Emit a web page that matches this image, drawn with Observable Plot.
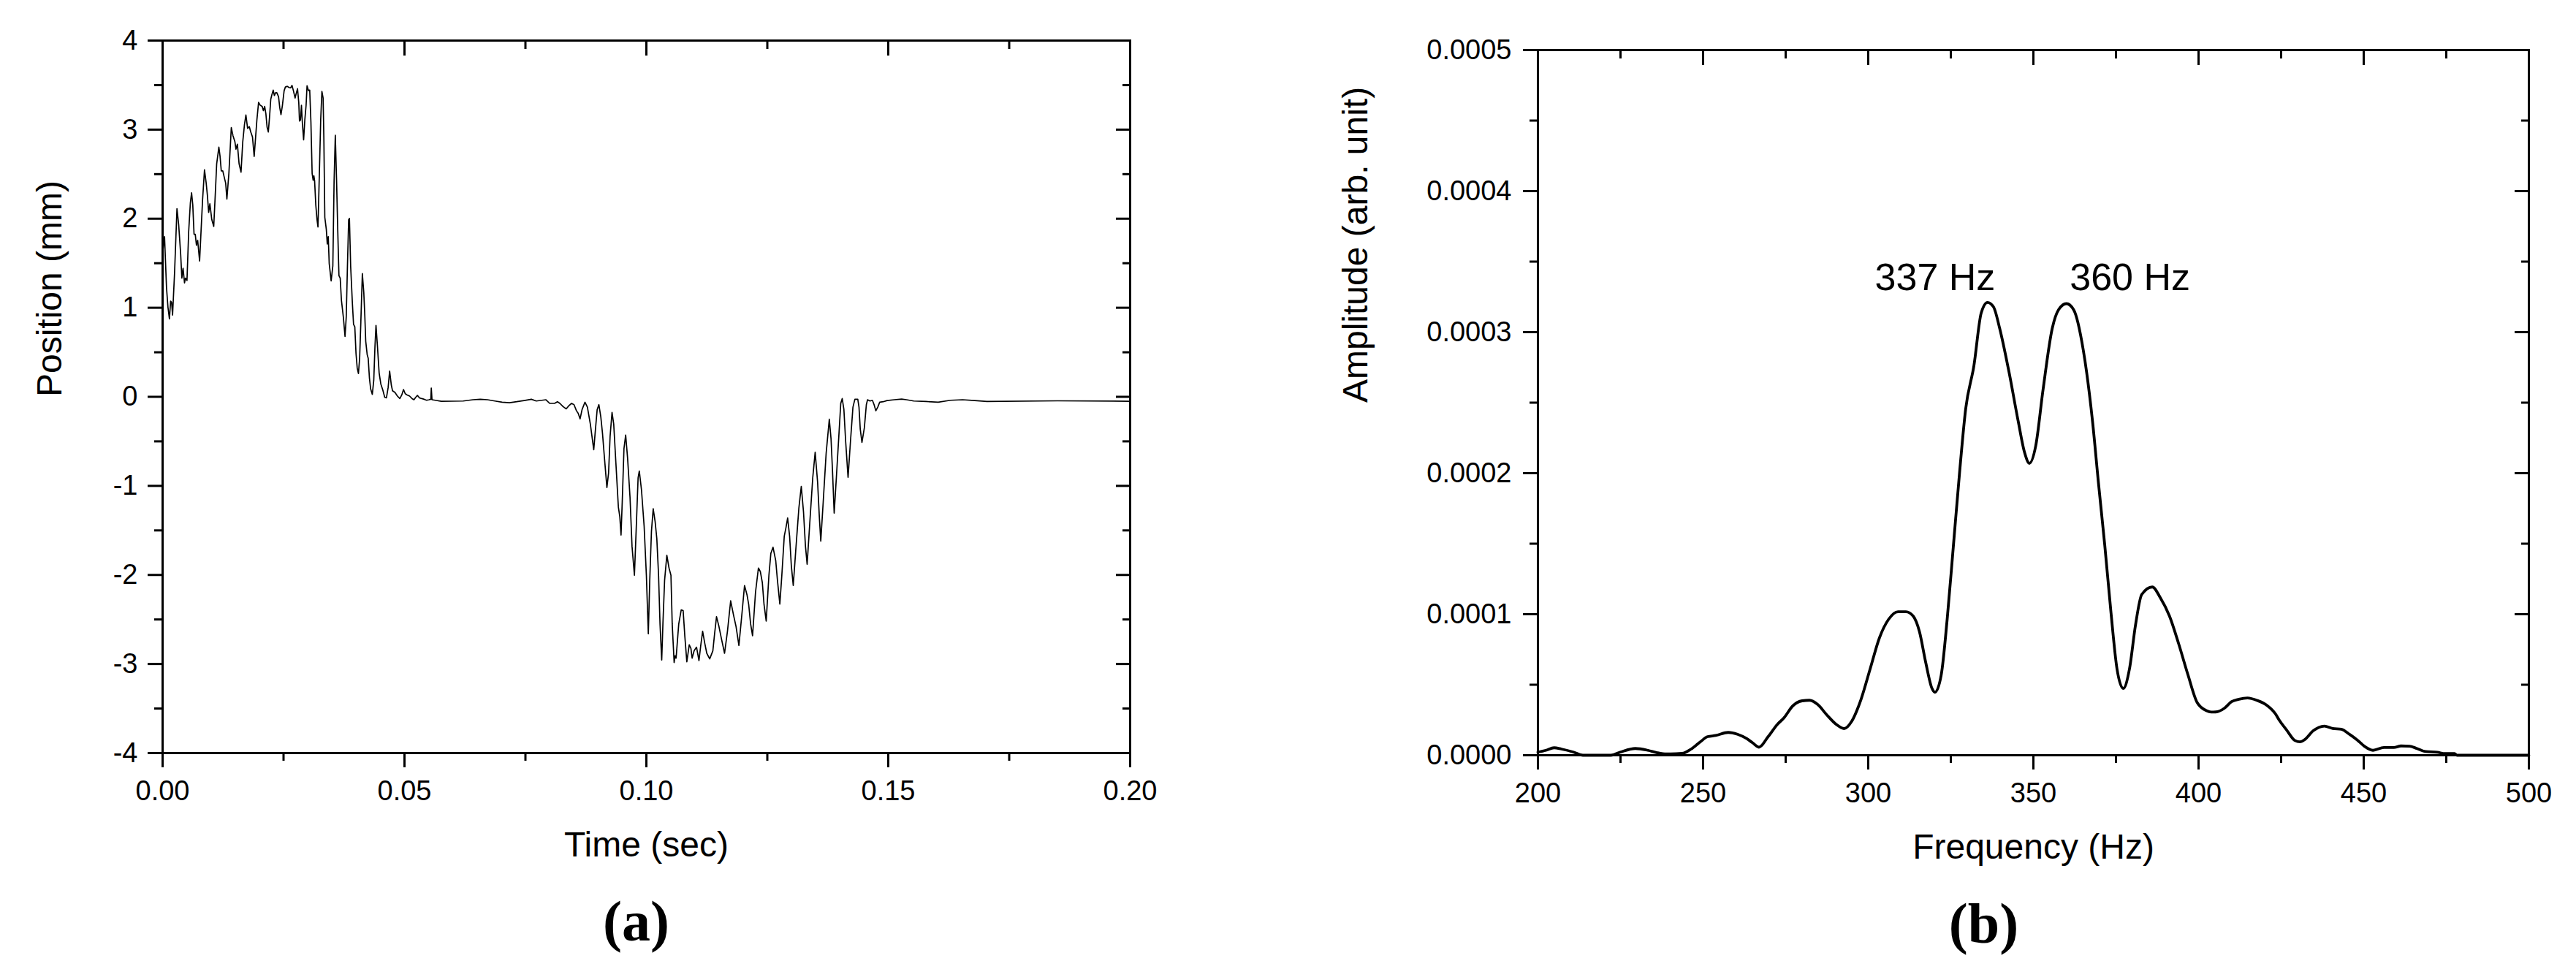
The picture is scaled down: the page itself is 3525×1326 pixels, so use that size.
<!DOCTYPE html>
<html><head><meta charset="utf-8">
<script src="https://cdn.jsdelivr.net/npm/d3@7"></script>
<script src="https://cdn.jsdelivr.net/npm/@observablehq/plot@0.6"></script>
<style>
html,body{margin:0;padding:0;background:#fff;}
#fig{position:relative;width:3525px;height:1326px;background:#fff;overflow:hidden;}
#fig svg{position:absolute;top:0;}
</style></head><body><div id="fig"></div>
<script>
// Panel (a): [time (s), position (mm)]
const positionSamples = [
[0.00005,1.634],[0.00040,1.798],[0.00081,1.224],[0.00111,1.005],[0.00141,0.874],[0.00166,1.074],[0.00186,1.060],[0.00206,0.918],[0.00247,1.388],[0.00297,2.112],
[0.00332,1.934],[0.00373,1.607],[0.00398,1.333],[0.00423,1.443],[0.00453,1.279],[0.00473,1.333],[0.00504,1.306],[0.00539,1.852],[0.00574,2.180],[0.00599,2.290],
[0.00624,2.153],[0.00650,1.825],[0.00675,1.825],[0.00700,1.702],[0.00725,1.757],[0.00765,1.525],[0.00826,2.208],[0.00866,2.549],[0.00901,2.399],[0.00926,2.262],
[0.00952,2.071],[0.00977,2.167],[0.01017,1.989],[0.01057,1.913],[0.01088,2.262],[0.01118,2.617],[0.01138,2.699],[0.01163,2.803],[0.01188,2.699],[0.01213,2.536],
[0.01244,2.536],[0.01279,2.454],[0.01304,2.399],[0.01329,2.221],[0.01370,2.508],[0.01420,3.022],[0.01455,2.932],[0.01495,2.863],[0.01516,2.781],[0.01546,2.836],
[0.01581,2.617],[0.01621,2.522],[0.01657,2.863],[0.01692,3.055],[0.01722,3.164],[0.01757,3.014],[0.01792,3.033],[0.01823,2.973],[0.01858,2.918],[0.01893,2.699],
[0.01923,2.918],[0.01949,3.109],[0.01984,3.306],[0.02019,3.273],[0.02059,3.260],[0.02084,3.213],[0.02110,3.260],[0.02135,3.178],[0.02160,3.027],[0.02185,2.973],
[0.02210,3.137],[0.02236,3.342],[0.02261,3.396],[0.02286,3.443],[0.02311,3.383],[0.02336,3.415],[0.02361,3.415],[0.02397,3.369],[0.02422,3.246],[0.02447,3.169],
[0.02477,3.273],[0.02512,3.437],[0.02538,3.478],[0.02578,3.486],[0.02613,3.473],[0.02648,3.470],[0.02674,3.497],[0.02704,3.437],[0.02739,3.355],[0.02764,3.410],
[0.02789,3.459],[0.02815,3.301],[0.02830,3.096],[0.02850,3.109],[0.02870,3.273],[0.02890,3.068],[0.02915,2.885],[0.02940,3.109],[0.02966,3.273],[0.02986,3.492],
[0.03016,3.437],[0.03041,3.443],[0.03066,3.082],[0.03091,2.508],[0.03112,2.432],[0.03127,2.481],[0.03142,2.426],[0.03167,2.153],[0.03192,1.989],[0.03212,1.907],
[0.03243,2.563],[0.03268,3.109],[0.03293,3.429],[0.03318,3.355],[0.03333,2.918],[0.03353,2.016],[0.03384,1.880],[0.03404,1.716],[0.03424,1.798],[0.03444,1.497],
[0.03484,1.301],[0.03519,1.470],[0.03545,2.426],[0.03570,2.937],[0.03595,2.454],[0.03620,1.880],[0.03645,1.361],[0.03671,1.333],[0.03696,1.087],[0.03736,0.896],
[0.03771,0.678],[0.03796,0.896],[0.03821,1.470],[0.03846,1.989],[0.03862,2.003],[0.03887,1.470],[0.03922,1.060],[0.03947,0.814],[0.03973,0.787],[0.03998,0.486],
[0.04023,0.323],[0.04048,0.262],[0.04073,0.432],[0.04098,0.842],[0.04129,1.383],[0.04159,1.169],[0.04179,0.923],[0.04199,0.623],[0.04229,0.473],[0.04250,0.432],
[0.04275,0.213],[0.04300,0.090],[0.04335,0.027],[0.04365,0.185],[0.04390,0.568],[0.04411,0.801],[0.04441,0.568],[0.04476,0.268],[0.04511,0.144],[0.04552,0.076],
[0.04592,-0.006],[0.04627,-0.011],[0.04662,0.103],[0.04693,0.289],[0.04728,0.131],[0.04753,0.068],[0.04803,0.049],[0.04854,0.008],[0.04904,-0.020],[0.04944,0.021],
[0.04980,0.082],[0.05015,0.035],[0.05055,0.021],[0.05106,0.008],[0.05156,-0.020],[0.05196,-0.033],[0.05231,-0.006],[0.05267,0.016],[0.05307,-0.011],[0.05357,-0.020],
[0.05408,-0.028],[0.05458,-0.039],[0.05508,-0.033],[0.05544,-0.028],[0.05554,0.098],[0.05569,-0.033],[0.05659,-0.041],[0.05760,-0.050],
[0.06214,-0.047],[0.06415,-0.033],[0.06566,-0.028],[0.06717,-0.033],[0.06868,-0.047],[0.07019,-0.061],[0.07170,-0.066],[0.07321,-0.055],[0.07472,-0.042],[0.07623,-0.028],
[0.07724,-0.047],[0.07925,-0.033],[0.08001,-0.074],[0.08102,-0.074],[0.08162,-0.055],[0.08212,-0.074],[0.08278,-0.110],[0.08343,-0.135],[0.08394,-0.102],[0.08454,-0.074],
[0.08504,-0.088],[0.08555,-0.157],[0.08590,-0.184],[0.08630,-0.247],[0.08671,-0.143],[0.08731,-0.061],[0.08781,-0.116],[0.08842,-0.307],[0.08882,-0.471],[0.08912,-0.594],
[0.08948,-0.362],[0.08983,-0.143],[0.09018,-0.088],[0.09058,-0.225],[0.09094,-0.416],[0.09134,-0.690],[0.09184,-1.019],[0.09219,-0.854],[0.09250,-0.444],[0.09290,-0.176],
[0.09325,-0.307],[0.09370,-0.745],[0.09421,-1.238],[0.09451,-1.347],[0.09476,-1.552],[0.09501,-1.183],[0.09537,-0.581],[0.09572,-0.430],[0.09612,-0.690],[0.09662,-1.128],
[0.09703,-1.675],[0.09753,-2.004],[0.09788,-1.511],[0.09829,-0.909],[0.09854,-0.833],[0.09899,-1.046],[0.09954,-1.456],[0.10000,-2.004],[0.10040,-2.661],[0.10070,-2.058],
[0.10105,-1.511],[0.10141,-1.257],[0.10181,-1.402],[0.10216,-1.593],[0.10252,-2.004],[0.10282,-2.551],[0.10317,-2.956],[0.10342,-2.551],[0.10377,-2.058],[0.10423,-1.779],
[0.10468,-1.922],[0.10508,-2.004],[0.10534,-2.551],[0.10574,-2.984],[0.10594,-2.907],[0.10614,-2.934],[0.10669,-2.551],[0.10720,-2.392],[0.10760,-2.401],[0.10795,-2.688],
[0.10836,-2.975],[0.10886,-2.784],[0.10921,-2.825],[0.10946,-2.934],[0.10987,-2.852],[0.11037,-2.811],[0.11087,-2.962],[0.11123,-2.797],[0.11163,-2.633],[0.11208,-2.770],
[0.11249,-2.880],[0.11309,-2.943],[0.11374,-2.852],[0.11410,-2.661],[0.11450,-2.469],[0.11500,-2.579],[0.11551,-2.715],[0.11616,-2.880],[0.11676,-2.633],[0.11742,-2.291],
[0.11803,-2.455],[0.11853,-2.578],[0.11913,-2.792],[0.11979,-2.414],[0.12029,-2.119],[0.12080,-2.223],[0.12115,-2.332],[0.12155,-2.551],[0.12195,-2.683],[0.12256,-2.195],
[0.12316,-1.922],[0.12356,-1.963],[0.12397,-2.086],[0.12432,-2.332],[0.12477,-2.518],[0.12533,-2.004],[0.12573,-1.758],[0.12618,-1.689],[0.12674,-1.840],[0.12709,-2.058],
[0.12759,-2.327],[0.12800,-2.004],[0.12850,-1.566],[0.12885,-1.470],[0.12920,-1.361],[0.12961,-1.566],[0.12996,-1.894],[0.13036,-2.119],[0.13087,-1.730],[0.13152,-1.251],
[0.13202,-1.005],[0.13248,-1.292],[0.13288,-1.675],[0.13323,-1.881],[0.13373,-1.456],[0.13439,-0.909],[0.13489,-0.622],[0.13540,-0.964],[0.13575,-1.347],[0.13605,-1.621],
[0.13655,-1.183],[0.13716,-0.635],[0.13781,-0.252],[0.13817,-0.471],[0.13847,-0.827],[0.13882,-1.306],[0.13927,-0.909],[0.13978,-0.444],[0.14018,-0.074],[0.14048,-0.020],
[0.14083,-0.143],[0.14119,-0.499],[0.14169,-0.904],[0.14219,-0.499],[0.14270,-0.116],[0.14310,-0.028],[0.14370,-0.028],[0.14395,-0.116],[0.14421,-0.362],[0.14456,-0.512],
[0.14506,-0.348],[0.14547,-0.088],[0.14572,-0.033],[0.14622,-0.047],[0.14672,-0.039],[0.14707,-0.088],[0.14743,-0.157],[0.14783,-0.116],[0.14823,-0.061],[0.14898,-0.055],
[0.14974,-0.042],[0.15125,-0.033],[0.15276,-0.025],[0.15377,-0.033],[0.15528,-0.047],[0.15779,-0.053],[0.16032,-0.061],[0.16284,-0.039],[0.16536,-0.033],[0.16787,-0.042],
[0.17039,-0.053],[0.18500,-0.045],[0.19990,-0.050]
];

// Panel (b): [frequency (Hz), amplitude in units of 1e-4]
const spectrumSamples = [
[200.0,0.022],[202.4,0.035],[204.9,0.053],[207.1,0.044],[210.8,0.022],[213.6,0.000],[222.1,0.000],[224.9,0.022],[229.5,0.048],[233.3,0.035],
[236.1,0.018],[238.9,0.009],[243.6,0.013],[246.4,0.044],[249.2,0.096],[251.4,0.132],[253.8,0.140],[257.6,0.162],[260.4,0.149],[263.2,0.118],
[265.0,0.088],[266.9,0.057],[269.7,0.132],[272.5,0.219],[274.4,0.263],[277.2,0.351],[280.0,0.386],[282.2,0.390],[284.7,0.360],[287.5,0.285],
[290.3,0.219],[292.7,0.189],[295.0,0.241],[297.8,0.395],[300.6,0.614],[303.4,0.833],[306.2,0.965],[309.0,1.018],[311.4,1.018],[313.6,0.987],
[315.5,0.877],[317.4,0.658],[319.3,0.474],[320.2,0.447],[322.1,0.570],[323.9,0.965],[325.8,1.491],[327.7,2.018],[329.5,2.456],[332.0,2.763],
[334.2,3.136],[336.1,3.211],[337.9,3.180],[339.8,3.026],[342.6,2.719],[345.4,2.368],[347.3,2.149],[348.8,2.070],[350.7,2.193],[352.9,2.588],
[355.7,3.026],[357.6,3.158],[360.0,3.202],[362.2,3.158],[365.1,2.873],[367.9,2.368],[369.7,1.930],[371.6,1.491],[373.5,1.009],[375.3,0.614],
[377.2,0.474],[379.1,0.614],[380.9,0.921],[382.8,1.140],[386.0,1.193],[388.4,1.118],[391.2,0.987],[394.0,0.789],[396.8,0.570],[399.6,0.373],
[402.4,0.316],[403.8,0.306],[405.2,0.307],[407.8,0.333],[410.0,0.380],[412.2,0.397],[414.8,0.406],[417.8,0.388],[420.7,0.354],[423.3,0.293],
[424.4,0.250],[426.6,0.181],[429.2,0.104],[430.7,0.095],[432.2,0.112],[434.7,0.173],[438.1,0.207],[440.6,0.190],[443.2,0.185],[445.8,0.147],
[448.0,0.109],[450.2,0.064],[452.8,0.035],[456.1,0.055],[459.1,0.055],[461.3,0.066],[463.9,0.064],[466.1,0.048],[468.7,0.026],[472.3,0.021],
[474.6,0.012],[477.5,0.012],[478.2,0.000],[500.0,0.000]
];

const timeTicks = [0, 0.05, 0.10, 0.15, 0.20];
const timeMinorTicks = [0.025, 0.075, 0.125, 0.175];
const positionTicks = [-4, -3, -2, -1, 0, 1, 2, 3, 4];
const positionMinorTicks = [-3.5, -2.5, -1.5, -0.5, 0.5, 1.5, 2.5, 3.5];
const freqTicks = [200, 250, 300, 350, 400, 450, 500];
const freqMinorTicks = [225, 275, 325, 375, 425, 475];
const ampTicks = [0, 0.0001, 0.0002, 0.0003, 0.0004, 0.0005];
const ampMinorTicks = [0.00005, 0.00015, 0.00025, 0.00035, 0.00045];
const peakLabels = [
  {label: "337 Hz", f: 302, a: 0.00033},
  {label: "360 Hz", f: 361, a: 0.00033}
];
const titles = {
  a: {x: "Time (sec)", y: "Position (mm)", tag: "(a)"},
  b: {x: "Frequency (Hz)", y: "Amplitude (arb. unit)", tag: "(b)"}
};

const SANS = "'Liberation Sans', Arial, Helvetica, sans-serif";
const SERIF = "'Liberation Serif', 'Times New Roman', serif";
const blank = () => "";

function boxAxes(xMaj, xMin, xFmt, yMaj, yMin, yFmt, xPad, yPad) {
  const c = {label: null, strokeWidth: 3, stroke: "black", fill: "black"};
  return [
    Plot.axisX({...c, anchor: "bottom", ticks: xMaj, tickSize: 20, tickPadding: xPad, tickFormat: xFmt, fontSize: 38}),
    Plot.axisX({...c, anchor: "bottom", ticks: xMin, tickSize: 11, tickFormat: blank}),
    Plot.axisX({...c, anchor: "top", ticks: xMaj, tickSize: 20, dy: 20, tickFormat: blank}),
    Plot.axisX({...c, anchor: "top", ticks: xMin, tickSize: 11, dy: 11, tickFormat: blank}),
    Plot.axisY({...c, anchor: "left", ticks: yMaj, tickSize: 20, tickPadding: yPad, tickFormat: yFmt, fontSize: 38}),
    Plot.axisY({...c, anchor: "left", ticks: yMin, tickSize: 11, tickFormat: blank}),
    Plot.axisY({...c, anchor: "right", ticks: yMaj, tickSize: 20, dx: -20, tickFormat: blank}),
    Plot.axisY({...c, anchor: "right", ticks: yMin, tickSize: 11, dx: -11, tickFormat: blank})
  ];
}

function titleMarks(t, yDx, tagDx) {
  return [
    Plot.text([t.x], {text: d => d, frameAnchor: "bottom", dy: 141, lineAnchor: "bottom", fontSize: 48, fontFamily: SANS, fill: "black"}),
    Plot.text([t.y], {text: d => d, frameAnchor: "left", dx: yDx, rotate: -90, lineAnchor: "bottom", fontSize: 48, fontFamily: SANS, fill: "black"}),
    Plot.text([t.tag], {text: d => d, frameAnchor: "bottom", dx: tagDx, dy: 256, lineAnchor: "bottom", fontSize: 78, fontWeight: "bold", fontFamily: SERIF, fill: "black"})
  ];
}

const left = Plot.plot({
  width: 1700, height: 1326,
  marginLeft: 222, marginRight: 154, marginTop: 55, marginBottom: 296,
  x: {domain: [0, 0.2]},
  y: {domain: [-4, 4]},
  style: {fontFamily: SANS, fontSize: "38px", background: "white", color: "black", overflow: "visible"},
  marks: [
    Plot.line(positionSamples, {x: d => d[0], y: d => d[1], stroke: "black", strokeWidth: 1.7, strokeLinejoin: "round"}),
    Plot.frame({stroke: "black", strokeWidth: 3}),
    ...boxAxes(timeTicks, timeMinorTicks, d3.format(".2f"), positionTicks, positionMinorTicks, d => String(d), 18, 14),
    ...titleMarks(titles.a, -139, -14)
  ]
});

const right = Plot.plot({
  width: 1825, height: 1326,
  marginLeft: 404, marginRight: 65, marginTop: 68, marginBottom: 293,
  x: {domain: [200, 500]},
  y: {domain: [0, 0.0005]},
  style: {fontFamily: SANS, fontSize: "38px", background: "white", color: "black", overflow: "visible"},
  marks: [
    Plot.line(spectrumSamples, {x: d => d[0], y: d => d[1] * 1e-4, stroke: "black", strokeWidth: 3.8, curve: "monotone-x", strokeLinejoin: "round"}),
    Plot.frame({stroke: "black", strokeWidth: 3}),
    ...boxAxes(freqTicks, freqMinorTicks, d => String(d), ampTicks, ampMinorTicks, d3.format(".4f"), 18, 16),
    Plot.text(peakLabels, {x: "f", y: "a", text: "label", textAnchor: "start", lineAnchor: "bottom", fontSize: 52, fontFamily: SANS, fill: "black"}),
    ...titleMarks(titles.b, -234, -68)
  ]
});

const fig = document.getElementById("fig");
left.style.left = "0px";
right.style.left = "1700px";
fig.append(left, right);
</script>
</body></html>
